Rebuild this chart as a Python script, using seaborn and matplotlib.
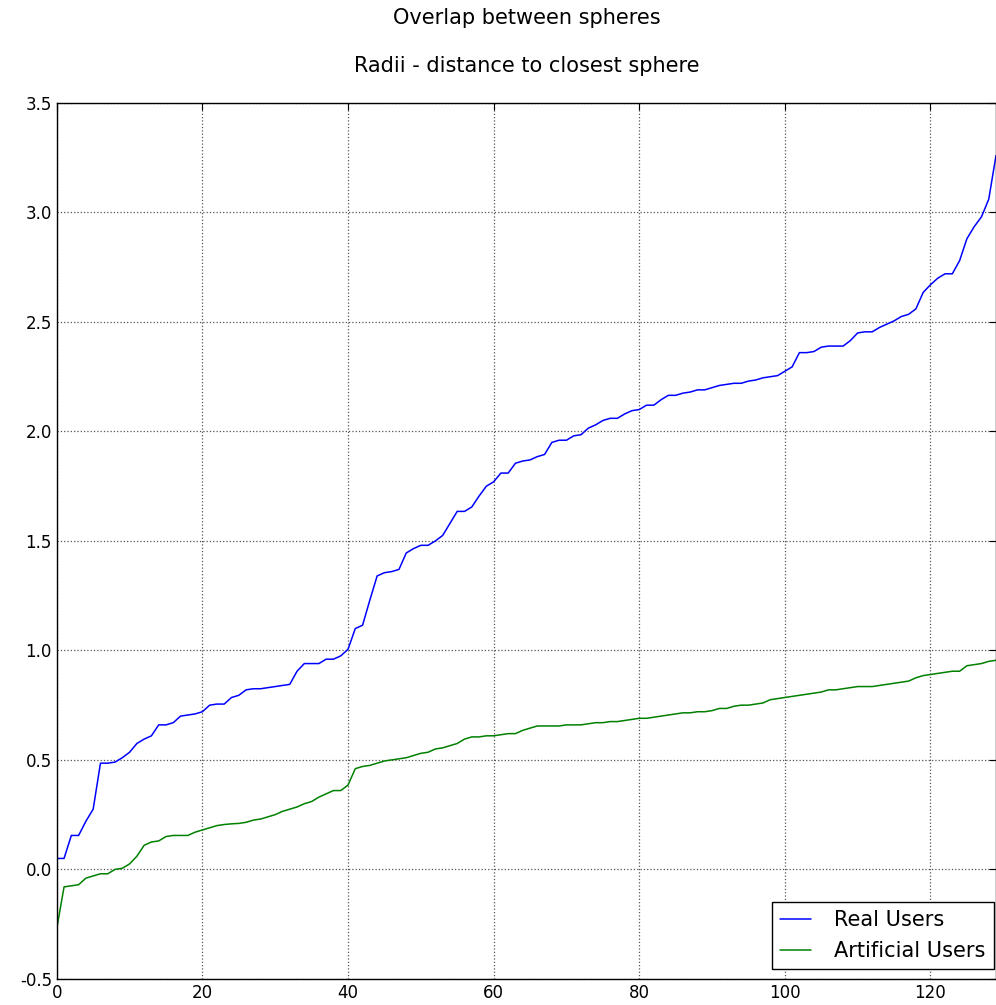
import numpy as np
import pandas as pd
import seaborn as sns
import matplotlib
matplotlib.use("Agg")
import matplotlib.pyplot as plt

# valores (130 pontos cada)
real_users = [
    0.05, 0.05, 0.155, 0.155, 0.22, 0.275, 0.485, 0.485, 0.49, 0.51,
    0.535, 0.575, 0.595, 0.61, 0.66, 0.66, 0.67, 0.70, 0.705, 0.71,
    0.72, 0.75, 0.755, 0.755, 0.785, 0.795, 0.82, 0.825, 0.825, 0.83,
    0.835, 0.84, 0.845, 0.905, 0.94, 0.94, 0.94, 0.96, 0.96, 0.975,
    1.005, 1.10, 1.115, 1.23, 1.34, 1.355, 1.36, 1.37, 1.445, 1.465,
    1.48, 1.48, 1.50, 1.525, 1.58, 1.635, 1.635, 1.655, 1.705, 1.75,
    1.77, 1.81, 1.81, 1.855, 1.865, 1.87, 1.885, 1.895, 1.95, 1.96,
    1.96, 1.98, 1.985, 2.015, 2.03, 2.05, 2.06, 2.06, 2.08, 2.095,
    2.10, 2.12, 2.12, 2.145, 2.165, 2.165, 2.175, 2.18, 2.19, 2.19,
    2.20, 2.21, 2.215, 2.22, 2.22, 2.23, 2.235, 2.245, 2.25, 2.255,
    2.275, 2.295, 2.36, 2.36, 2.365, 2.385, 2.39, 2.39, 2.39, 2.415,
    2.45, 2.455, 2.455, 2.475, 2.49, 2.505, 2.525, 2.535, 2.56, 2.635,
    2.67, 2.70, 2.72, 2.72, 2.78, 2.88, 2.935, 2.98, 3.06, 3.26,
]
artificial_users = [
    -0.27, -0.08, -0.075, -0.07, -0.04, -0.03, -0.02, -0.02, 0.00, 0.005,
    0.025, 0.06, 0.11, 0.125, 0.13, 0.15, 0.155, 0.155, 0.155, 0.17,
    0.18, 0.19, 0.20, 0.205, 0.208, 0.21, 0.215, 0.225, 0.23, 0.24,
    0.25, 0.265, 0.275, 0.285, 0.30, 0.31, 0.33, 0.345, 0.36, 0.36,
    0.385, 0.46, 0.47, 0.475, 0.485, 0.495, 0.50, 0.505, 0.51, 0.52,
    0.53, 0.535, 0.55, 0.555, 0.565, 0.575, 0.595, 0.605, 0.605, 0.61,
    0.61, 0.615, 0.62, 0.62, 0.635, 0.645, 0.655, 0.655, 0.655, 0.655,
    0.66, 0.66, 0.66, 0.665, 0.67, 0.67, 0.675, 0.675, 0.68, 0.685,
    0.69, 0.69, 0.695, 0.70, 0.705, 0.71, 0.715, 0.715, 0.72, 0.72,
    0.725, 0.735, 0.735, 0.745, 0.75, 0.75, 0.755, 0.76, 0.775, 0.78,
    0.785, 0.79, 0.795, 0.80, 0.805, 0.81, 0.82, 0.82, 0.825, 0.83,
    0.835, 0.835, 0.835, 0.84, 0.845, 0.85, 0.855, 0.86, 0.875, 0.885,
    0.89, 0.895, 0.90, 0.905, 0.905, 0.93, 0.935, 0.94, 0.95, 0.955,
]
series_names = ["Real Users", "Artificial Users"]

df = pd.DataFrame({
    "idx": np.arange(len(real_users)),
    series_names[0]: real_users,
    series_names[1]: artificial_users,
}).melt(id_vars="idx", var_name="grupo", value_name="valor")

sns.set_style("white", {
    "axes.edgecolor": "black",
    "text.color": "black",
    "xtick.color": "black",
    "ytick.color": "black",
    "xtick.direction": "in",
    "ytick.direction": "in",
})
plt.rcParams["font.family"] = ["DejaVu Sans"]

fig = plt.figure(figsize=(9.96, 10.05), dpi=100)
ax = fig.add_axes([0.057, 0.026, 0.943, 0.8715])

sns.lineplot(data=df, x="idx", y="valor", hue="grupo",
             palette=["#0000ff", "#008000"], linewidth=1.1, ax=ax)

ax.set_xlim(0, 129)
ax.set_ylim(-0.5, 3.5)
ax.set_xticks(np.arange(0, 130, 20))
ax.set_yticks(np.arange(-0.5, 3.51, 0.5))
ax.set_yticklabels([f"{v:.1f}" for v in np.arange(-0.5, 3.51, 0.5)])
ax.tick_params(labelsize=12, length=5, top=True, right=True, direction="in",
               colors="black")
ax.grid(True, linestyle=":", color="#555555", linewidth=0.9)
ax.set_xlabel("")
ax.set_ylabel("")
for s in ax.spines.values():
    s.set_linewidth(1.0)

ax.set_title("Overlap between spheres\n\nRadii - distance to closest sphere",
             fontsize=15, pad=22.5, color="black", linespacing=1.23)

leg = ax.legend(loc="lower right", bbox_to_anchor=(0.998, 0.011),
                fontsize=15, fancybox=False, framealpha=1, edgecolor="black",
                borderaxespad=0, handlelength=1.5, handletextpad=1.1)
leg.get_frame().set_linewidth(1.0)

fig.savefig("out.png", dpi=100)
